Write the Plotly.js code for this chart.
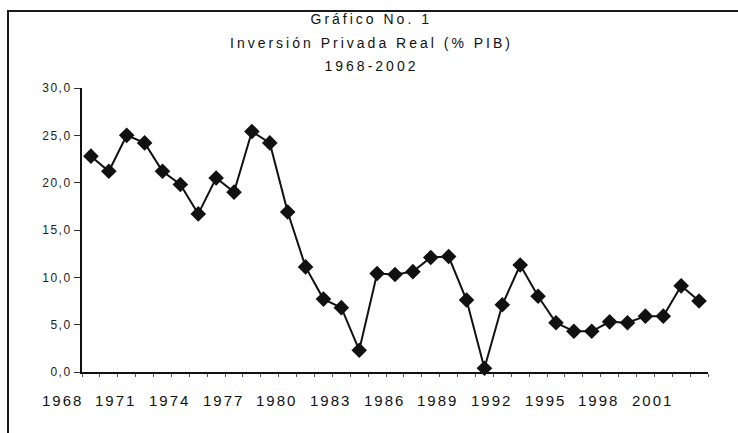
<!DOCTYPE html>
<html>
<head>
<meta charset="utf-8">
<script src="https://cdn.plot.ly/plotly-3.0.1.min.js"></script>
<style>
    html, body { margin: 0; padding: 0; background: #fff; }
    #wrap { position: relative; width: 738px; height: 433px; }
    #frame {
        position: absolute; left: 7px; top: 10px; right: 0; bottom: 0;
        border-top: 2px solid #1a1a1a; border-left: 2px solid #1a1a1a;
        pointer-events: none;
    }
    #grafico { width: 738px; height: 433px; }
    /* el original tiene el texto muy espaciado */
    .annotation-text { letter-spacing: 2px; }
    .annotation[data-index="0"] .annotation-text,
    .annotation[data-index="1"] .annotation-text,
    .annotation[data-index="2"] .annotation-text { letter-spacing: 3px; }
    .ytick text { letter-spacing: 1.5px; }
</style>
</head>
<body>
<div id="wrap">
    <div id="grafico"></div>
    <div id="frame"></div>
</div>
<script>
// Datos
const years = [1968, 1969, 1970, 1971, 1972, 1973, 1974, 1975, 1976, 1977,
               1978, 1979, 1980, 1981, 1982, 1983, 1984, 1985, 1986, 1987,
               1988, 1989, 1990, 1991, 1992, 1993, 1994, 1995, 1996, 1997,
               1998, 1999, 2000, 2001, 2002];
const inversion = [22.8, 21.2, 25.0, 24.2, 21.2, 19.8, 16.7, 20.5, 19.0, 25.4,
                   24.2, 16.9, 11.1, 7.7, 6.8, 2.3, 10.4, 10.3, 10.6, 12.1,
                   12.2, 7.6, 0.4, 7.1, 11.3, 8.0, 5.2, 4.3, 4.3, 5.3,
                   5.2, 5.9, 5.9, 9.1, 7.5];
const xTickLabels = ['1968', '1971', '1974', '1977', '1980', '1983',
                     '1986', '1989', '1992', '1995', '1998', '2001'];
const titleLines = ['Gráfico No. 1', 'Inversión Privada Real (% PIB)', '1968-2002'];

document.addEventListener('DOMContentLoaded', () => {
    const el = document.getElementById('grafico');
    const W = 738, H = 433;
    const margin = { l: 82, r: 30, t: 88, b: 61 };
    const plotH = H - margin.t - margin.b;
    const xRange = [1967.5, 2002.5];

    // pasar de píxel vertical a coordenada "paper"
    const py = (p) => (H - margin.b - p) / plotH;
    // año -> coordenada "paper" (las anotaciones fuera del rango no se dibujan con xref 'x')
    const px = (yr) => (yr - xRange[0]) / (xRange[1] - xRange[0]);

    const font = 'Arial, "Liberation Sans", sans-serif';

    const annotations = [];
    const titleY = [19, 43, 66];
    titleLines.forEach((t, i) => {
        annotations.push({
            text: t, xref: 'paper', yref: 'paper',
            x: (371 - margin.l) / (W - margin.l - margin.r), y: py(titleY[i]),
            xanchor: 'center', yanchor: 'middle', showarrow: false,
            font: { family: font, size: 14, color: '#111' }
        });
    });

    // las etiquetas del eje X en el original están corridas a la izquierda
    xTickLabels.forEach((lab) => {
        annotations.push({
            text: lab, xref: 'paper', yref: 'paper',
            x: px(Number(lab) - 1.6), y: py(400),
            xanchor: 'center', yanchor: 'middle', showarrow: false,
            font: { family: font, size: 15, color: '#111' }
        });
    });

    const data = [{
        type: 'scatter',
        mode: 'lines+markers',
        x: years,
        y: inversion,
        line: { color: '#111', width: 2 },
        marker: { symbol: 'diamond', size: 12, color: '#111' },
        cliponaxis: false,
        hoverinfo: 'x+y'
    }];

    const layout = {
        width: W, height: H,
        margin: margin,
        paper_bgcolor: '#fff',
        plot_bgcolor: '#fff',
        showlegend: false,
        separators: ', ',
        font: { family: font, color: '#111' },
        xaxis: {
            range: xRange,
            tickmode: 'linear', tick0: 1967.5, dtick: 1,
            ticks: 'outside', ticklen: 3, tickcolor: '#555', tickwidth: 1,
            showticklabels: false,
            showline: true, linecolor: '#111', linewidth: 2,
            showgrid: false, zeroline: false, fixedrange: true
        },
        yaxis: {
            range: [0, 30],
            tickmode: 'linear', tick0: 0, dtick: 5,
            tickformat: '.1f',
            ticks: 'outside', ticklen: 6, tickcolor: '#333', tickwidth: 1,
            tickfont: { family: font, size: 12, color: '#222' },
            showline: true, linecolor: '#111', linewidth: 2,
            showgrid: false, zeroline: false, fixedrange: true
        },
        annotations: annotations
    };

    Plotly.newPlot(el, data, layout, { displayModeBar: false, staticPlot: true });
});
</script>
</body>
</html>
